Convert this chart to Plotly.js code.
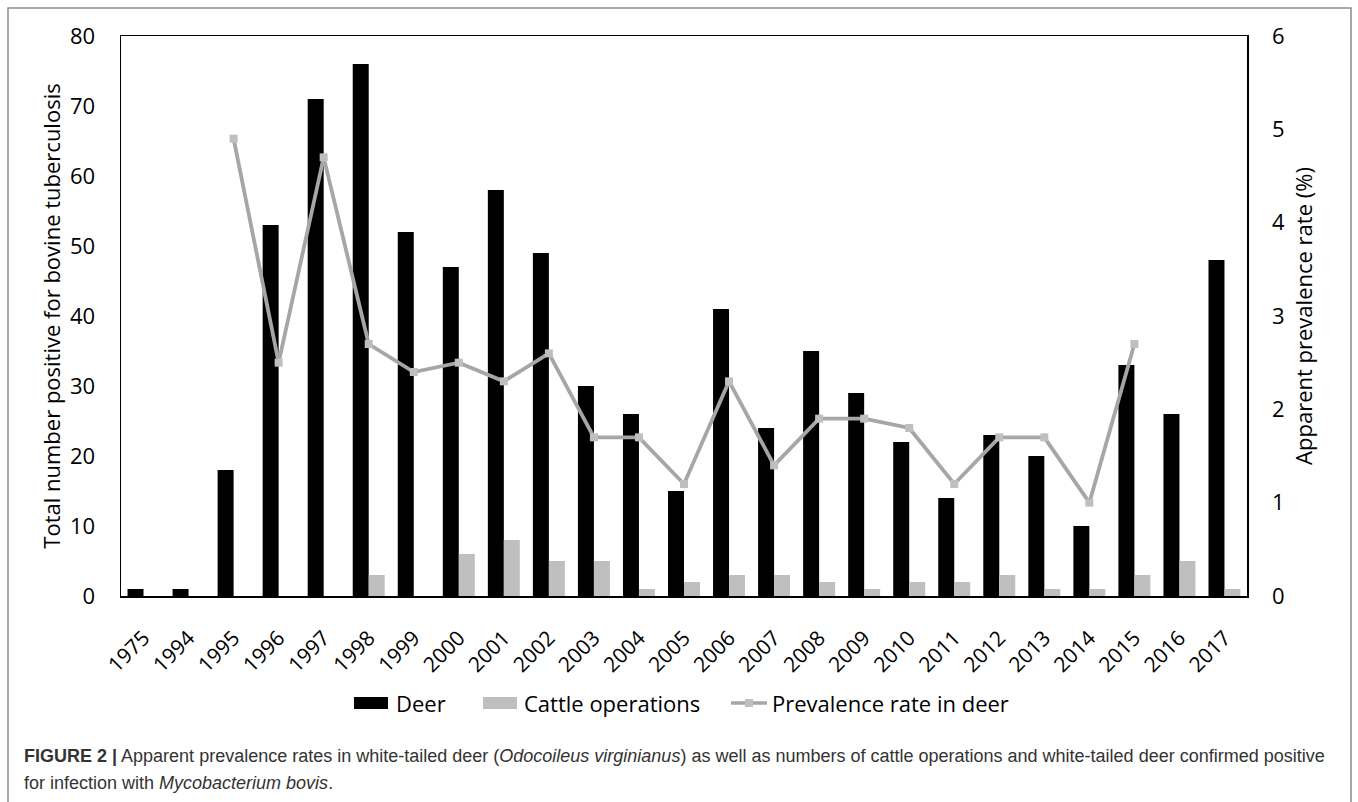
<!DOCTYPE html>
<html>
<head>
<meta charset="utf-8">
<script src="https://cdn.plot.ly/plotly-3.0.1.min.js"></script>
<style>
html,body{margin:0;padding:0;background:#fff;}
#chart{width:1358px;height:802px;}
</style>
</head>
<body>
<div id="chart"></div>
<script>
var years = ["1975","1994","1995","1996","1997","1998","1999","2000","2001","2002","2003","2004","2005","2006","2007","2008","2009","2010","2011","2012","2013","2014","2015","2016","2017"];
var deer = [1,1,18,53,71,76,52,47,58,49,30,26,15,41,24,35,29,22,14,23,20,10,33,26,48];
var cattle = [0,0,0,0,0,3,0,6,8,5,5,1,2,3,3,2,1,2,2,3,1,1,3,5,1];
var prevalence = [null,null,4.9,2.5,4.7,2.7,2.4,2.5,2.3,2.6,1.7,1.7,1.2,2.3,1.4,1.9,1.9,1.8,1.2,1.7,1.7,1.0,2.7,null,null];
var leftTicks = [0,10,20,30,40,50,60,70,80];
var rightTicks = [0,1,2,3,4,5,6];
var seriesNames = ["Deer","Cattle operations","Prevalence rate in deer"];

var FONT = "Open Sans, Lato, sans-serif";
var CAPFONT = "Liberation Sans, Arial, sans-serif";
var L = 121, R = 1247, T = 36, B = 596;
var W = 1358, H = 802;
function px(x){ return (x - L) / (R - L); }
function py(y){ return (B - y) / (B - T); }

var BLACK = "#000000", GRAY_BAR = "#bfbfbf", GRAY_LINE = "#a6a6a6";

var traces = [
  {type:"bar", name:seriesNames[0], x:years, y:deer, marker:{color:BLACK}, yaxis:"y", showlegend:false},
  {type:"bar", name:seriesNames[1], x:years, y:cattle, marker:{color:GRAY_BAR}, yaxis:"y", showlegend:false},
  {type:"scatter", mode:"lines+markers", name:seriesNames[2], x:years, y:prevalence, yaxis:"y2", showlegend:false,
   line:{color:GRAY_LINE, width:3.8}, marker:{symbol:"square", size:8, color:GRAY_BAR}, connectgaps:false}
];

// custom legend (wide swatches as in the original figure)
var legY = 703;
var legendShapes = [
  {type:"rect", xref:"paper", yref:"paper", x0:px(354), x1:px(388), y0:py(697), y1:py(709), fillcolor:BLACK, line:{width:0}},
  {type:"rect", xref:"paper", yref:"paper", x0:px(483), x1:px(517), y0:py(697), y1:py(709), fillcolor:GRAY_BAR, line:{width:0}},
  {type:"line", xref:"paper", yref:"paper", x0:px(731), x1:px(767), y0:py(legY), y1:py(legY), line:{color:GRAY_LINE, width:3.5}},
  {type:"rect", xref:"paper", yref:"paper", x0:px(745), x1:px(753), y0:py(legY-4), y1:py(legY+4), fillcolor:GRAY_BAR, line:{width:0}}
];
var legendTexts = [
  {x:394, text:seriesNames[0]},
  {x:522, text:seriesNames[1]},
  {x:770, text:seriesNames[2]}
].map(function(o){
  return {xref:"paper", yref:"paper", x:px(o.x), y:py(legY), xanchor:"left", yanchor:"middle", showarrow:false,
          text:o.text, font:{family:FONT, size:22, color:"#000"}};
});

var layout = {
  width:W, height:H,
  margin:{l:L, r:W-R, t:T, b:H-B, pad:0},
  paper_bgcolor:"#ffffff", plot_bgcolor:"#ffffff",
  font:{family:FONT, color:"#000000"},
  barmode:"group", bargap:0.29, bargroupgap:0,
  showlegend:false,
  xaxis:{type:"category", categoryorder:"array", categoryarray:years, range:[-0.5, years.length-0.5],
         showline:true, mirror:true, linecolor:"#000", linewidth:1.5,
         showgrid:false, zeroline:false, ticks:"", tickangle:-45,
         tickfont:{family:FONT, size:21, color:"#000"}, ticklabelstandoff:20, automargin:false},
  yaxis:{range:[0,80], tickvals:leftTicks, ticktext:leftTicks.map(String),
         showline:true, mirror:true, linecolor:"#000", linewidth:1.5,
         showgrid:false, zeroline:false, ticks:"",
         tickfont:{family:FONT, size:22, color:"#000"}, ticklabelstandoff:20, automargin:false,
         title:{text:"Total number positive for bovine tuberculosis", font:{family:FONT, size:22, color:"#000"}, standoff:3}},
  yaxis2:{range:[0,6], tickvals:rightTicks, ticktext:rightTicks.map(String), overlaying:"y", side:"right",
          showline:false, showgrid:false, zeroline:false, ticks:"",
          tickfont:{family:FONT, size:22, color:"#000"}, ticklabelstandoff:24, automargin:false,
          title:{text:"Apparent prevalence rate (%)", font:{family:FONT, size:22, color:"#000"}, standoff:12}},
  shapes:[
    {type:"rect", xref:"paper", yref:"paper", x0:px(8), x1:px(1351), y0:py(8), y1:py(830),
     line:{color:"#8c8c8c", width:1.5}, fillcolor:"rgba(0,0,0,0)", layer:"below"}
  ].concat(legendShapes),
  annotations:[
    {xref:"paper", yref:"paper", x:px(22), y:py(756), xanchor:"left", yanchor:"middle", showarrow:false, align:"left",
     text:"<b>FIGURE 2 |</b> Apparent prevalence rates in white-tailed deer (<i>Odocoileus virginianus</i>) as well as numbers of cattle operations and white-tailed deer confirmed positive",
     font:{family:CAPFONT, size:18, color:"#333333"}},
    {xref:"paper", yref:"paper", x:px(22), y:py(783), xanchor:"left", yanchor:"middle", showarrow:false, align:"left",
     text:"for infection with <i>Mycobacterium bovis</i>.",
     font:{family:CAPFONT, size:18, color:"#333333"}}
  ].concat(legendTexts)
};

Plotly.newPlot("chart", traces, layout, {displayModeBar:false, staticPlot:true});
</script>
</body>
</html>
